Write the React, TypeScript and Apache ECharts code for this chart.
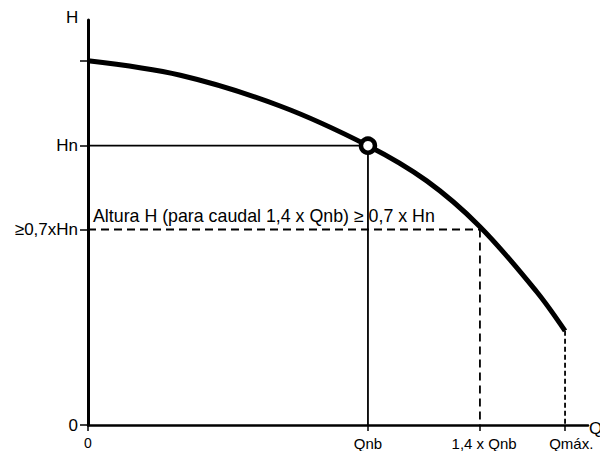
import React, { useEffect, useRef } from "react";
import * as echarts from "echarts";

// Pump curve H(Q), normalised so Qnb = 1 and Hn = 1
const curveQ = [0, 0.33, 0.686, 1.0, 1.21, 1.4, 1.602, 1.704];
const curveH = [1.304, 1.252, 1.142, 1.0, 0.874, 0.71, 0.478, 0.337];

const Q_NB = 1;
const Q_14 = 1.4;
const Q_MAX = 1.704;
const H_N = 1;
const H_07 = 0.7;
const H_0 = 1.304;
const H_END = 0.337;

const xTickValues = [0, Q_NB, Q_14, Q_MAX];
const xTickLabels = ["0", "Qnb", "1,4 x Qnb", "Qmáx."];
const yTickValues = [0, H_07, H_N, H_0];
const yLabelValues = [0, H_07, H_N];
const yTickLabels = ["0", "≥0,7xHn", "Hn"];

const annotation = "Altura H (para caudal 1,4 x Qnb) ≥ 0,7 x Hn";

const FONT = "'Liberation Sans', Arial, sans-serif";

export default function App() {
  const ref = useRef<HTMLDivElement>(null);
  useEffect(() => {
    if (!ref.current) return;
    const chart = echarts.init(ref.current, undefined, { renderer: "svg" });
    const thin = { color: "#000", width: 1.8 };
    chart.setOption({
      animation: false,
      backgroundColor: "#fff",
      grid: { left: 88, right: 12, top: 20, bottom: 25, containLabel: false },
      xAxis: {
        type: "value",
        min: 0,
        max: 1.786,
        axisLine: { show: true, onZero: false, lineStyle: { color: "#000", width: 2.5 } },
        axisTick: { show: true, length: 6, customValues: xTickValues, lineStyle: { color: "#000", width: 1.5 } },
        axisLabel: {
          show: true,
          customValues: xTickValues,
          margin: 11,
          color: "#000",
          fontFamily: FONT,
          fontSize: 15,
          formatter: (v: number) => {
            const i = xTickValues.findIndex((t) => Math.abs(t - v) < 1e-6);
            const s = i >= 0 ? xTickLabels[i] : "";
            if (i === 0) return "{z|" + s + "}";
            if (i === 2) return "\u00a0\u00a0" + s;
            if (i === 3) return "\u00a0\u00a0\u00a0" + s;
            return s;
          },
          rich: {
            z: { fontSize: 14, fontFamily: FONT, color: "#000", padding: [0, 0, 3, 0] },
          },
        },
        splitLine: { show: false },
      },
      yAxis: {
        type: "value",
        min: 0,
        max: 1.45,
        axisLine: { show: true, onZero: false, lineStyle: { color: "#000", width: 3 } },
        axisTick: { show: true, length: 8, customValues: yTickValues, lineStyle: { color: "#000", width: 1.5 } },
        axisLabel: {
          show: true,
          customValues: yLabelValues,
          margin: 10,
          color: "#000",
          fontFamily: FONT,
          fontSize: 17,
          formatter: (v: number) => {
            const i = yLabelValues.findIndex((t) => Math.abs(t - v) < 1e-6);
            return i >= 0 ? yTickLabels[i] : "";
          },
        },
        splitLine: { show: false },
      },
      series: [
        {
          type: "line",
          data: [[0, H_N], [Q_NB, H_N]],
          symbol: "none",
          lineStyle: thin,
          z: 2,
        },
        {
          type: "line",
          data: [[Q_NB, H_N], [Q_NB, 0]],
          symbol: "none",
          lineStyle: thin,
          z: 2,
        },
        {
          type: "line",
          data: [[0, H_07], [Q_14, H_07]],
          symbol: "none",
          lineStyle: { ...thin, type: [8, 5] },
          z: 2,
        },
        {
          type: "line",
          data: [[Q_14, H_07], [Q_14, 0]],
          symbol: "none",
          lineStyle: { ...thin, type: [8, 5] },
          z: 2,
        },
        {
          type: "line",
          data: [[Q_MAX, H_END], [Q_MAX, 0]],
          symbol: "none",
          lineStyle: { ...thin, type: [5, 3] },
          z: 2,
        },
        {
          type: "line",
          data: curveQ.map((q, i) => [q, curveH[i]]),
          smooth: 0.35,
          symbol: "none",
          lineStyle: { color: "#000", width: 5, cap: "butt" },
          z: 3,
        },
        {
          type: "scatter",
          data: [[Q_NB, H_N]],
          symbol: "circle",
          symbolSize: 14,
          itemStyle: { color: "#fff", borderColor: "#000", borderWidth: 4.5, opacity: 1 },
          z: 4,
        },
      ],
      graphic: [
        {
          type: "text",
          left: 66,
          top: 9,
          style: { text: "H", fontSize: 17, fontFamily: FONT, fill: "#000" },
        },
        {
          type: "text",
          left: 589,
          top: 420,
          style: { text: "Q", fontSize: 17, fontFamily: FONT, fill: "#000" },
        },
        {
          type: "text",
          left: 93,
          top: 207,
          style: { text: annotation, fontSize: 17.8, fontFamily: FONT, fill: "#000" },
        },
      ],
    });
    return () => chart.dispose();
  }, []);
  return (
    <div
      ref={ref}
      style={{ position: "fixed", left: 0, top: 0, width: 600, height: 451 }}
    />
  );
}
